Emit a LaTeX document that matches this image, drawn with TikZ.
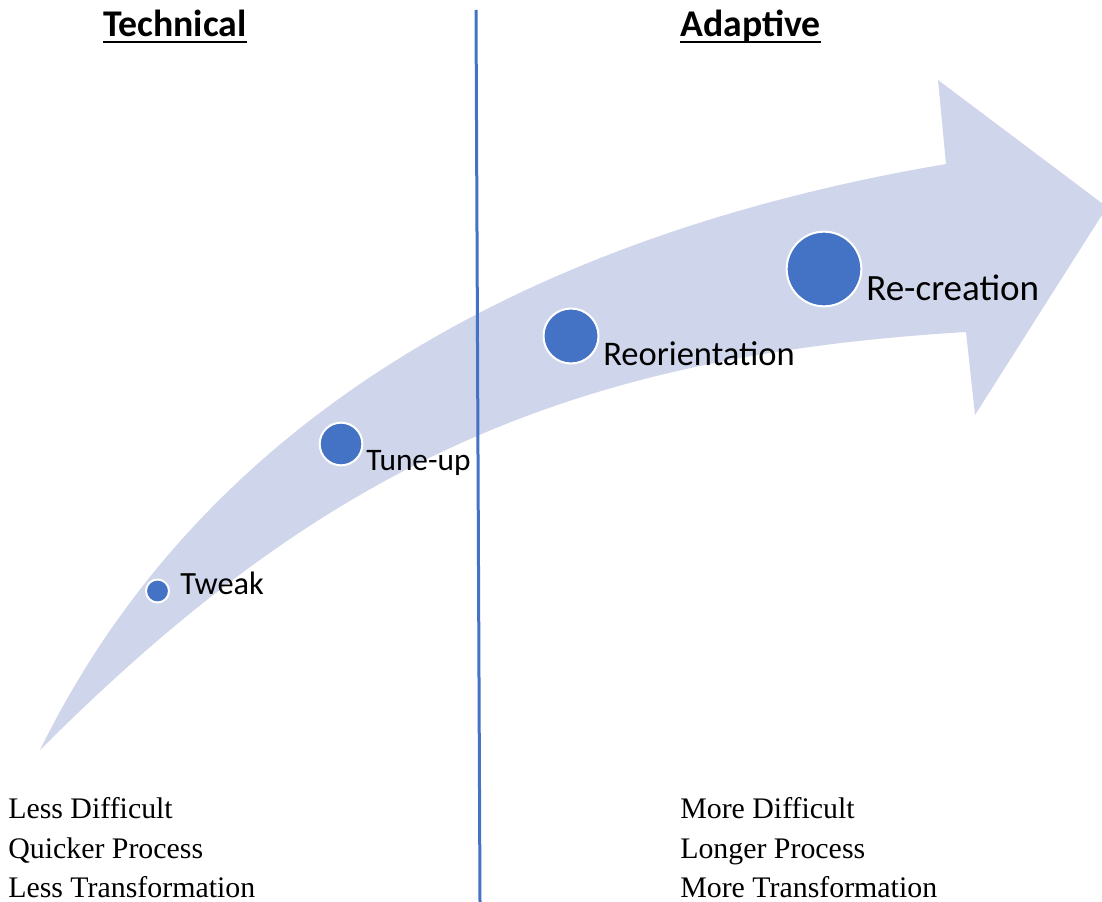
\documentclass[tikz,border=0pt]{standalone}
\usepackage{fontspec}
\setmainfont{Liberation Serif}
\newfontfamily\carlitofont{Carlito}
\definecolor{bandcol}{HTML}{CFD5EA}
\definecolor{accent}{HTML}{4472C4}
\begin{document}
\begin{tikzpicture}[x=0.75pt,y=-0.75pt,
  dot/.style={circle, fill=accent, draw=white, line width=1.5pt, inner sep=0pt},
  lbl/.style={anchor=base west, inner sep=0pt, font=\carlitofont},
  head/.style={anchor=base west, inner sep=0pt, font=\carlitofont\bfseries\fontsize{28.3}{33}\selectfont},
  body/.style={anchor=base west, inner sep=0pt, font=\fontsize{22.4}{27}\selectfont}]
\clip (0,0) rectangle (1102,902);
% curved arrow band
\fill[bandcol] (40,750) .. controls (210,404) and (552,231) .. (946,164)
  -- (938,80) -- (1107,207) -- (975,415) -- (966,332)
  .. controls (566,356) and (323,467) .. (40,750) -- cycle;
% divider
\coordinate (ltop) at (476,10);
\coordinate (lbot) at (480,902);
\draw[accent, line width=2.25pt] (ltop) -- (lbot);
% dots
\node[dot, minimum size=17.25pt] (tweak) at (157.5,591) {};
\node[dot, minimum size=32pt] (tune) at (341,444) {};
\node[dot, minimum size=41.25pt] (reor) at (571,336) {};
\node[dot, minimum size=56pt] (recr) at (824,269) {};
% labels
\node[lbl, font=\carlitofont\fontsize{24.3}{29}\selectfont] (tweakl) at (180,594.5) {Tweak};
\node[lbl, font=\carlitofont\fontsize{23.5}{28}\selectfont] (tunel) at (366,470.5) {Tune-up};
\node[lbl, font=\carlitofont\fontsize{25.9}{30}\selectfont] (reorl) at (603,365) {Reorientation};
\node[lbl, font=\carlitofont\fontsize{27.8}{32}\selectfont] (recrl) at (866,300) {Re-creation};
% headings
\node[head] (tech) at (103,37) {Technical};
\draw[line width=1.9pt] ([yshift=-3.75pt]tech.base west) -- ([yshift=-3.75pt]tech.base east);
\node[head] (adap) at (680,37) {Adaptive};
\draw[line width=1.9pt] ([yshift=-3.75pt]adap.base west) -- ([yshift=-3.75pt]adap.base east);
% bottom texts
\node[body] (l1) at (8,818) {Less Difficult};
\node[body] (l2) at (8,858) {Quicker Process};
\node[body] (l3) at (8,897) {Less Transformation};
\node[body] (r1) at (680,818) {More Difficult};
\node[body] (r2) at (680,858) {Longer Process};
\node[body] (r3) at (680,897) {More Transformation};
\end{tikzpicture}
\end{document}
